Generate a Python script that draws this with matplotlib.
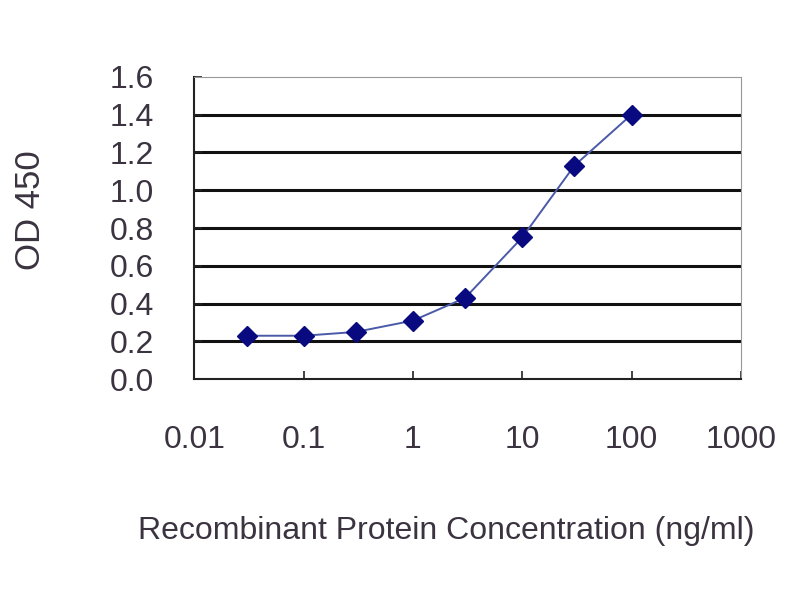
import matplotlib
matplotlib.use("Agg")
import matplotlib.pyplot as plt
import matplotlib.ticker as plticker

conc = [0.03, 0.1, 0.3, 1, 3, 10, 30, 100]
od = [0.23, 0.23, 0.25, 0.31, 0.43, 0.75, 1.13, 1.40]

x_ticks = [0.01, 0.1, 1, 10, 100, 1000]
x_labels = ["0.01", "0.1", "1", "10", "100", "1000"]
y_ticks = [0.0, 0.2, 0.4, 0.6, 0.8, 1.0, 1.2, 1.4, 1.6]
y_labels = ["0.0", "0.2", "0.4", "0.6", "0.8", "1.0", "1.2", "1.4", "1.6"]

text_col = "#3b3340"
plt.rcParams["font.family"] = ["Liberation Sans", "DejaVu Sans"]

fig = plt.figure(figsize=(8, 6), dpi=100)
ax = fig.add_axes([0.243, 0.368, 0.683, 0.504])

ax.plot(conc, od, color="#4a5aa8", linewidth=1.4, zorder=3)
ax.plot(conc, od, linestyle="none", marker="D", markersize=10,
        color="#0a0a80", zorder=4)

ax.set_xscale("log")
ax.set_xlim(0.01, 1000)
ax.set_ylim(0, 1.6)
ax.set_xticks(x_ticks)
ax.set_xticklabels(x_labels)
ax.xaxis.set_minor_locator(plticker.NullLocator())
ax.set_yticks(y_ticks)
ax.set_yticklabels(y_labels)

for y in y_ticks[1:-1]:
    ax.axhline(y, color="#111111", linewidth=2.2, zorder=1)

ax.tick_params(axis="both", direction="in", length=6, width=1.2,
               colors="#222222", labelcolor=text_col, labelsize=23)
ax.tick_params(axis="x", pad=33)
ax.tick_params(axis="y", pad=29)

ax.spines["left"].set_color("#222222")
ax.spines["bottom"].set_color("#222222")
ax.spines["left"].set_linewidth(1.5)
ax.spines["bottom"].set_linewidth(1.5)
ax.spines["top"].set_color("#999999")
ax.spines["right"].set_color("#999999")

fig.text(30 / 800, 1 - 210 / 600, "OD 450", rotation=90, fontsize=25,
         color=text_col, ha="center", va="center")
fig.text(446 / 800, 1 - 531 / 600, "Recombinant Protein Concentration (ng/ml)",
         fontsize=23, color=text_col, ha="center", va="center")

fig.savefig("out.png", dpi=100)
